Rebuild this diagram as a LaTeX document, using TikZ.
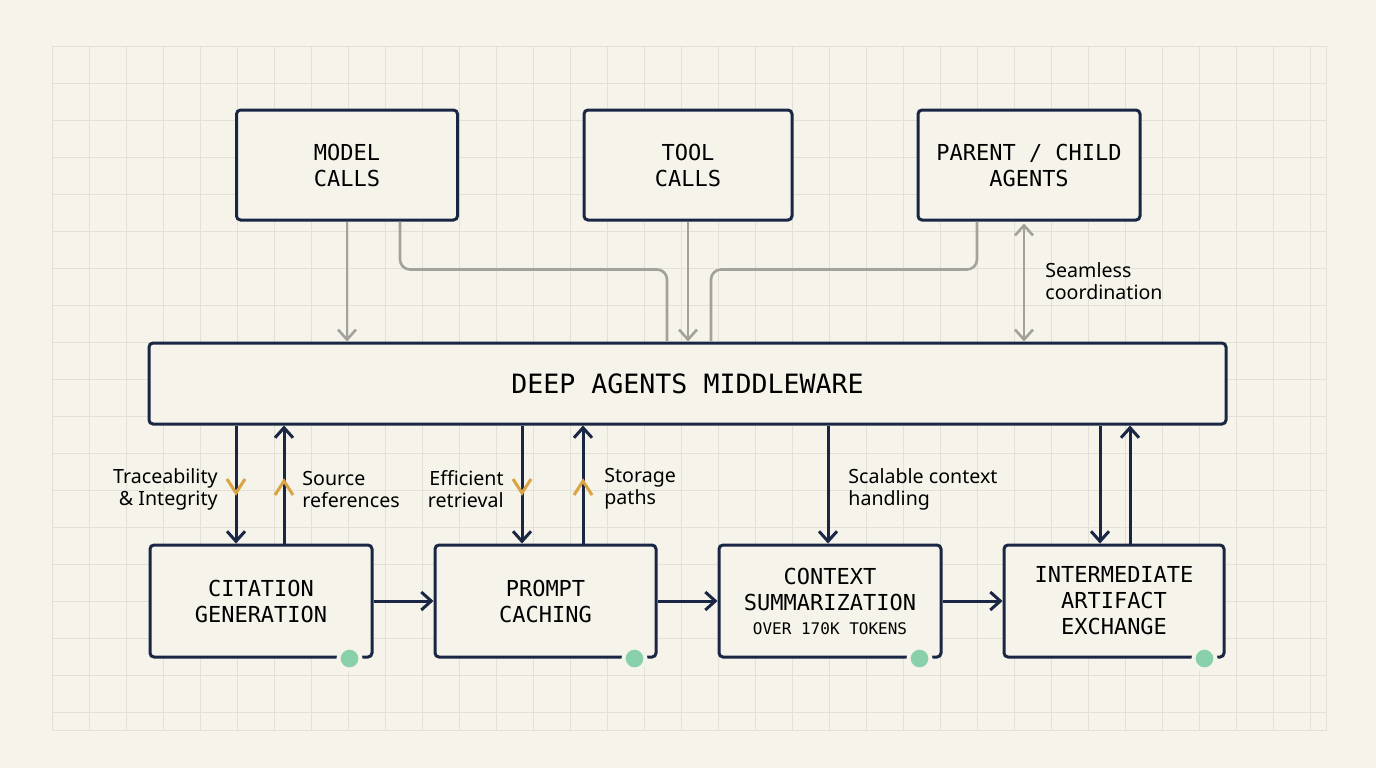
\documentclass[tikz,border=0pt]{standalone}
\usepackage{fontspec}
\setmainfont{Noto Sans}
\setmonofont{DejaVu Sans Mono}
\usetikzlibrary{arrows.meta,calc}
\definecolor{bg}{HTML}{F6F3EA}
\definecolor{gridc}{HTML}{E3E0D7}
\definecolor{navy}{HTML}{1A2744}
\definecolor{greyc}{HTML}{A3A19B}
\definecolor{orng}{HTML}{D9A443}
\definecolor{grn}{HTML}{88D1AA}
\tikzset{
  box/.style={draw=navy, line width=1.5pt, rounded corners=2pt, fill=bg, align=center,
    font=\ttfamily\fontsize{11}{13}\selectfont, inner sep=0pt},
  garrow/.style={draw=greyc, line width=1.3pt, -{Straight Barb[length=5pt,width=9pt]}},
  gline/.style={draw=greyc, line width=1.3pt, rounded corners=5pt},
  narrow/.style={draw=navy, line width=1.5pt, -{Straight Barb[length=5pt,width=9pt]}},
  lbl/.style={font=\fontsize{9.8}{11}\selectfont, text=black, inner sep=0pt},
  chev/.style={draw=orng, line width=1.5pt},
  dot/.style={circle, fill=grn, draw=bg, line width=2pt, minimum size=11pt, inner sep=0pt}
}
\begin{document}
\begin{tikzpicture}[x=0.5pt,y=-0.5pt]
\fill[bg] (0,0) rectangle (1376,768);
\useasboundingbox (0,0) rectangle (1376,768);
% grid
\begin{scope}
\clip (52,46) rectangle (1326,730);
\foreach \i in {0,...,35} { \draw[gridc, line width=0.5pt] (52+\i*37,46) -- (52+\i*37,730); }
\foreach \j in {0,...,19} { \draw[gridc, line width=0.5pt] (52,46+\j*37) -- (1326,46+\j*37); }
\end{scope}
\draw[gridc, line width=0.5pt] (52,46) rectangle (1326,730);

% top boxes
\node[box, minimum width=110.5pt, minimum height=55pt] (model) at (347,165) {MODEL\\CALLS};
\node[box, minimum width=104pt, minimum height=55pt] (tool) at (688,165) {TOOL\\CALLS};
\node[box, minimum width=111pt, minimum height=55pt] (parent) at (1029,165) {PARENT / CHILD\\AGENTS};
% middleware
\node[box, minimum width=538.5pt, minimum height=40.5pt, font=\ttfamily\fontsize{13.3}{15}\selectfont] (mw) at (687.5,383.5) {DEEP AGENTS MIDDLEWARE};
% bottom boxes
\node[box, minimum width=111pt, minimum height=56pt] (cit) at (261,601) {CITATION\\GENERATION};
\node[box, minimum width=110.5pt, minimum height=56pt] (pro) at (545.5,601) {PROMPT\\CACHING};
\node[box, minimum width=111pt, minimum height=56pt] (ctx) at (830,601) {CONTEXT\\SUMMARIZATION\\[-1pt]{\fontsize{8}{10}\selectfont OVER 170K TOKENS}};
\node[box, minimum width=110pt, minimum height=56pt] (inter) at (1114,601) {INTERMEDIATE\\ARTIFACT\\EXCHANGE};

% green dots
\node[dot] (d1) at ($(cit.south east)+(-24,0)$) {};
\node[dot] (d2) at ($(pro.south east)+(-23,0)$) {};
\node[dot] (d3) at ($(ctx.south east)+(-23,0)$) {};
\node[dot] (d4) at ($(inter.south east)+(-21,0)$) {};

% grey connectors
\draw[garrow] (model.south) -- (model.south |- mw.north);
\draw[gline] ($(model.south)+(53,0)$) -- ++(0,48) -| ($(mw.north -| tool.south)+(-21,0)$);
\draw[garrow] (tool.south) -- (tool.south |- mw.north);
\draw[gline] ($(parent.south)+(-52,0)$) -- ++(0,48) -| ($(mw.north -| tool.south)+(23,0)$);
\coordinate (sc1) at ($(parent.south)+(-5,2)$);
\draw[draw=greyc, line width=1.3pt, {Straight Barb[length=5pt,width=9pt]}-{Straight Barb[length=5pt,width=9pt]}] (sc1) -- (sc1 |- mw.north);
\node[lbl, anchor=west, align=left] (seam) at (1045,281) {Seamless\\coordination};

% navy vertical arrows
\coordinate (a1) at (236,0); \coordinate (a2) at (284,0);
\coordinate (b1) at (522,0); \coordinate (b2) at (583,0);
\coordinate (c1) at (828,0);
\coordinate (e1) at (1100,0); \coordinate (e2) at (1130,0);
\draw[narrow] (a1 |- mw.south) -- (a1 |- cit.north);
\draw[narrow] (a2 |- cit.north) -- (a2 |- mw.south);
\draw[narrow] (b1 |- mw.south) -- (b1 |- pro.north);
\draw[narrow] (b2 |- pro.north) -- (b2 |- mw.south);
\draw[narrow] (c1 |- mw.south) -- (c1 |- ctx.north);
\draw[narrow] (e1 |- mw.south) -- (e1 |- inter.north);
\draw[narrow] (e2 |- inter.north) -- (e2 |- mw.south);

% orange chevrons
\draw[chev] (227,479) -- (236,493) -- (245,479);
\draw[chev] (275,495) -- (284,481) -- (293,495);
\draw[chev] (513,479) -- (522,493) -- (531,479);
\draw[chev] (574,495) -- (583,481) -- (592,495);

% labels
\node[lbl, anchor=east, align=right] (l1) at (218,489) {Traceability\\\& Integrity};
\node[lbl, anchor=west, align=left] (l2) at (302,489) {Source\\references};
\node[lbl, anchor=east, align=right] (l3) at (504,489) {Efficient\\retrieval};
\node[lbl, anchor=west, align=left] (l4) at (604,489) {Storage\\paths};
\node[lbl, anchor=west, align=left] (l5) at (848,489) {Scalable context\\handling};

% horizontal arrows
\draw[narrow] (cit.east) -- (pro.west);
\draw[narrow] (pro.east) -- (ctx.west);
\draw[narrow] (ctx.east) -- (inter.west);
\end{tikzpicture}
\end{document}
